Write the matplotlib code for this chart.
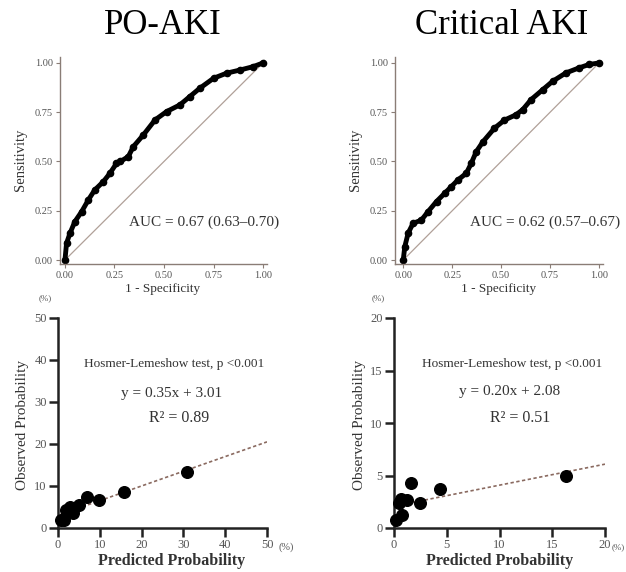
import numpy as np
import matplotlib
matplotlib.use("Agg")
import matplotlib.pyplot as plt

plt.rcParams['font.family'] = ['Liberation Serif', 'DejaVu Serif']

# ROC curves
po_fpr = [0.0, 0.008, 0.025, 0.05, 0.084, 0.118, 0.15, 0.194, 0.227, 0.26, 0.28, 0.32,
          0.345, 0.396, 0.455, 0.513, 0.58, 0.63, 0.68, 0.75, 0.816, 0.884, 0.95, 1.0]
po_tpr = [0.0, 0.085, 0.135, 0.195, 0.245, 0.305, 0.355, 0.398, 0.44, 0.49, 0.50, 0.525,
          0.575, 0.635, 0.711, 0.753, 0.787, 0.829, 0.871, 0.922, 0.948, 0.964, 0.981, 1.0]
cr_fpr = [0.0, 0.008, 0.025, 0.05, 0.093, 0.127, 0.17, 0.212, 0.246, 0.28, 0.322, 0.347,
          0.373, 0.407, 0.466, 0.517, 0.576, 0.61, 0.653, 0.712, 0.763, 0.83, 0.898, 0.949, 1.0]
cr_tpr = [0.0, 0.068, 0.136, 0.186, 0.203, 0.246, 0.297, 0.339, 0.373, 0.407, 0.44, 0.49,
          0.55, 0.6, 0.669, 0.71, 0.737, 0.763, 0.814, 0.864, 0.907, 0.949, 0.975, 0.992, 1.0]

# calibration points (%)
po_pred = [0.6, 1.4, 1.9, 2.8, 3.7, 5.1, 6.9, 9.8, 15.8, 30.8]
po_obs = [1.8, 1.9, 4.2, 5.0, 3.6, 5.5, 7.5, 6.6, 8.5, 13.3]
cr_pred = [0.2, 0.8, 0.5, 0.7, 1.26, 1.6, 2.5, 4.4, 16.3]
cr_obs = [0.8, 1.2, 2.35, 2.8, 2.67, 4.25, 2.4, 3.7, 5.0]

po_fit = (0.35, 3.01)
cr_fit = (0.20, 2.08)

W, H = 626, 572
fig = plt.figure(figsize=(W / 100, H / 100), dpi=100)

def box(l, r, t, b):
    return [l / W, 1 - b / H, (r - l) / W, (b - t) / H]

def ftext(x, y, s, **kw):
    fig.text(x / W, 1 - y / H, s, ha=kw.pop('ha', 'center'), va=kw.pop('va', 'center'), **kw)

spine_c = '#8a7d76'
tick_c = '#555555'

def roc_axes(rect, fpr, tpr, xmin):
    ax = fig.add_axes(rect)
    ax.plot([0, 1], [0, 1], color='#b0a098', lw=0.9)
    ax.plot(fpr, tpr, '-o', color='black', lw=3.5, ms=4.5, clip_on=False)
    ax.set_xlim(xmin, 1.02)
    ax.set_ylim(-0.02, 1.03)
    ticks = [0, 0.25, 0.5, 0.75, 1.0]
    ax.set_xticks(ticks)
    ax.set_yticks(ticks)
    ax.set_xticklabels(['0.00', '0.25', '0.50', '0.75', '1.00'])
    ax.set_yticklabels(['0.00', '0.25', '0.50', '0.75', '1.00'])
    for s in ['top', 'right']:
        ax.spines[s].set_visible(False)
    for s in ['left', 'bottom']:
        ax.spines[s].set_color(spine_c)
        ax.spines[s].set_linewidth(1.0)
    ax.tick_params(colors=spine_c, labelcolor=tick_c, labelsize=7.5, length=3, pad=2)
    return ax

def cal_axes(rect, pred, obs, fit, lim, step):
    ax = fig.add_axes(rect)
    a, b = fit
    xs = np.array([min(pred), lim])
    ax.plot(xs, a * xs + b, linestyle=(0, (2, 1.5)), color='#8a6a60', lw=1.2)
    ax.scatter(pred, obs, s=70, color='black', zorder=3, clip_on=False)
    ax.set_xlim(0, lim)
    ax.set_ylim(0, lim)
    ticks = np.arange(0, lim + 1, step)
    ax.set_xticks(ticks)
    ax.set_yticks(ticks)
    for s in ['top', 'right']:
        ax.spines[s].set_visible(False)
    for s in ['left', 'bottom']:
        ax.spines[s].set_linewidth(1.8)
        ax.spines[s].set_color('#222222')
    ax.tick_params(width=1.8, length=6.5, color='#222222', labelcolor=tick_c,
                   labelsize=9, pad=1.5)
    return ax

roc_axes(box(60, 267, 57, 264), po_fpr, po_tpr, -0.025)
roc_axes(box(395, 603, 57, 264), cr_fpr, cr_tpr, -0.042)
cal_axes(box(58, 267, 318, 528), po_pred, po_obs, po_fit, 50, 10)
cal_axes(box(394, 605, 318, 528), cr_pred, cr_obs, cr_fit, 20, 5)

# titles
ftext(163, 25, 'PO-AKI', fontsize=25)
ftext(502, 25, 'Critical AKI', fontsize=25)

# ROC annotations
ftext(204, 222, 'AUC = 0.67 (0.63\u20130.70)', fontsize=11, color='#333333')
ftext(545, 222, 'AUC = 0.62 (0.57\u20130.67)', fontsize=11, color='#333333')
ftext(20, 160, 'Sensitivity', fontsize=10.5, rotation=90, color='#333333')
ftext(356, 160, 'Sensitivity', fontsize=10.5, rotation=90, color='#333333')
ftext(163, 289, '1 - Specificity', fontsize=9.5, color='#333333')
ftext(499, 289, '1 - Specificity', fontsize=9.5, color='#333333')

# calibration annotations
ftext(45, 298, '(%)', fontsize=6.5, color='#555555')
ftext(378, 298, '(%)', fontsize=6.5, color='#555555')
ftext(286, 547, '(%)', fontsize=7.5, color='#555555')
ftext(625, 547, '(%)', fontsize=6.5, color='#555555', ha='right')

ftext(174, 364, 'Hosmer-Lemeshow test, p <0.001', fontsize=9.5, color='#333333')
ftext(512, 364, 'Hosmer-Lemeshow test, p <0.001', fontsize=9.5, color='#333333')
ftext(172, 393, 'y = 0.35x + 3.01', fontsize=11, color='#333333')
ftext(510, 392, 'y = 0.20x + 2.08', fontsize=11, color='#333333')
ftext(179, 418, 'R\u00b2 = 0.89', fontsize=11.5, color='#333333')
ftext(520, 418, 'R\u00b2 = 0.51', fontsize=11.5, color='#333333')

ftext(23, 425, 'Observed Probability', fontsize=11, rotation=90, color='#333333')
ftext(359, 425, 'Observed Probability', fontsize=11, rotation=90, color='#333333')
ftext(172, 561, 'Predicted Probability', fontsize=11.5, fontweight='bold', color='#333333')
ftext(500, 561, 'Predicted Probability', fontsize=11.5, fontweight='bold', color='#333333')

fig.savefig('out.png', dpi=100)
